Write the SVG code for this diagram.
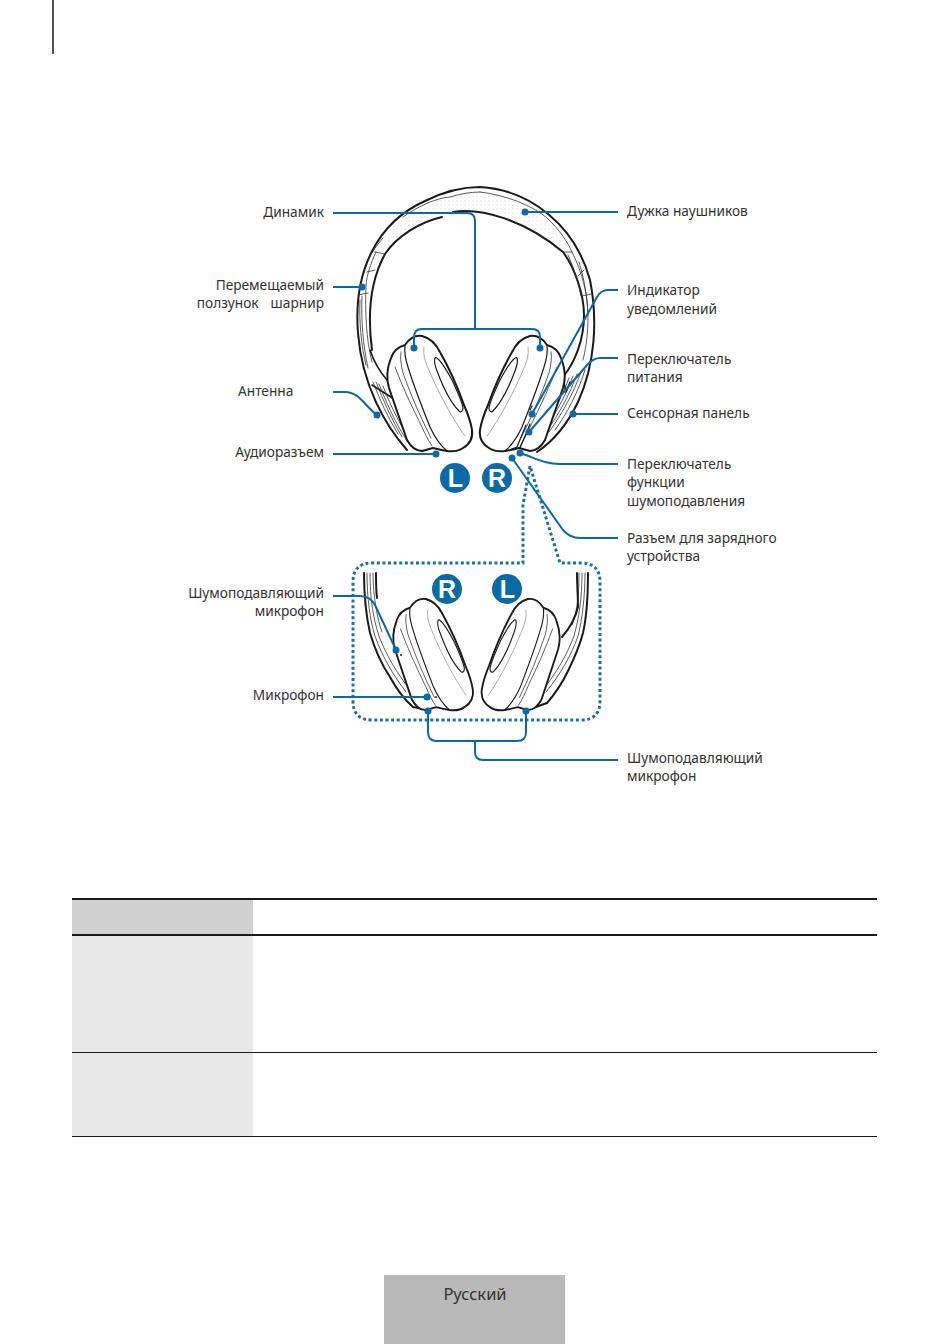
<svg xmlns="http://www.w3.org/2000/svg" xmlns:xlink="http://www.w3.org/1999/xlink" width="950" height="1344" viewBox="0 0 950 1344">
<style>
text{font-family:"Noto Sans","Open Sans","Liberation Sans",sans-serif;font-size:13.7px;fill:#333}
.r{text-anchor:end}
.k{fill:none;stroke:#1a1a1a;stroke-width:2;stroke-linecap:round;stroke-linejoin:round}
.m{fill:none;stroke:#1a1a1a;stroke-width:1.2;stroke-linecap:round;stroke-linejoin:round}
.t{fill:none;stroke:#333;stroke-width:.8;stroke-linecap:round}
.g{fill:none;stroke:#a8a8a8;stroke-width:1}
.c{fill:none;stroke:#0b6aa6;stroke-width:2;stroke-linejoin:round}
.d{fill:#0b6aa6}
.b{fill:#0b6aa6}
.bt{font-family:"Liberation Sans",Arial,sans-serif;font-weight:700;font-size:25px;fill:#fff;text-anchor:middle}
.box{fill:none;stroke:#1b71a8;stroke-width:3;stroke-dasharray:3 2.6}
</style>
<defs>
<pattern id="dots" width="4" height="4" patternUnits="userSpaceOnUse"><circle cx="1" cy="1" r=".5" fill="#bdbdbd"/></pattern>
<g id="cup">
<path fill="#fff" stroke="none" d="M405 345C398 347 393 352 391 358C387 368 386 378 389 388L407 440C411 447 416 451 422 451L433 449L447 451C455 452 459 451 463 448C470 444 473 438 472 430C471 424 468 414 464 405C458 388 449 368 440 352C436 344 430 338 422 336C415 335 409 339 405 345Z"/>
<path class="k" d="M405 345C409 339 415 335 422 336C430 338 436 344 440 352C449 368 458 388 464 405C468 414 471 424 472 430C473 438 470 444 463 448C459 451 455 452 447 451C441 450 437 449 433 448L422 451C416 451 411 447 407 440L389 388C386 378 387 368 391 358C393 352 398 347 405 345Z"/>
<path class="m" d="M405 346C404 354 406 361 408 367C414 387 422 407 430 427C435 438 440 445 447 451"/>
<path class="t" d="M401 352C400 358 401 365 403 373C411 396 421 418 431 438"/>
<path class="t" d="M395 367C402 386 412 407 422 427C425 434 428 440 432 446"/>
<path class="m" d="M435 358C434 361 435 366 437 371C443 387 451 403 459 411C461 413 463 411 463 408C462 401 457 391 452 380C447 371 442 362 438 359C437 358 436 357 435 358Z"/>
<path class="g" d="M424 347C423 354 425 361 428 368C438 392 452 418 465 436"/>
</g>
</defs>
<rect width="950" height="1344" fill="#fff"/>
<path d="M53 0V54" stroke="#1a1a1a" stroke-width="1.5" fill="none"/>

<g id="headphones-top">
<path fill="url(#dots)" stroke="none" d="M385 254C397 236 420 222 442 217L453 212C480 207 525 220 563 252L572 252C555 224 525 199 480 192C440 193 405 212 383 238Z"/>
<path class="k" d="M372 350C368 320 368 285 385 254C397 236 420 222 442 217M453 212C480 207 525 220 563 252C575 268 584 295 584 315C584 340 575 362 563 377"/>
<path class="k" d="M407 450C385 425 362 385 358 333C353 270 378 222 425 201C445 191 465 187 480 187C530 190 575 225 590 280C598 320 595 365 578 402C567 425 552 442 537 452"/>
<path class="t" d="M360 300C359 320 361 345 366 365M362 296C361 320 363 345 368 368M366 285C365 310 366 340 372 362M376 252C370 265 367 275 366 285M383 238C377 245 372 252 369 258M367 272L375 270M358 295L368 293M375 252L385 254"/>
<path class="t" d="M403 217C420 205 437 198 450 197C460 194 470 192 480 192M480 192C505 195 532 205 547 218C560 230 568 243 572 252M563 252L572 252M572 252C580 268 585 285 587 300C589 320 588 340 583 360M579 262C584 278 587 295 588 315M568 255C574 268 578 282 581 296M578 276L584 270M582 296L591 294"/>
<path class="t" d="M373 382C380 400 388 418 398 434M376 382C383 400 392 420 402 437M379 384C386 402 396 424 407 441M383 386C391 407 402 430 415 446"/>
<path class="k" d="M370 350C374 362 380 372 387 380M372 385L394 399" style="stroke-width:1.6"/>
<path class="t" d="M585 370C578 392 568 412 555 430M581 372C574 392 562 414 549 432M577 374C570 394 557 418 543 436M573 376C566 396 552 420 538 440M569 378C562 398 548 422 533 444"/>
<path class="k" style="stroke-width:1.5" d="M563 377L566 392M566 392L570 382"/>
<use xlink:href="#cup"/>
<use xlink:href="#cup" transform="translate(952 0) scale(-1 1)"/>
<path class="m" d="M507 451L517 447M517 447L526 425M520 448L530 424M530 410L532 406"/>
</g>

<g id="badges">
<circle class="b" cx="455" cy="478" r="15"/><text class="bt" x="455.500" y="487">L</text>
<circle class="b" cx="497" cy="478" r="15"/><text class="bt" x="497" y="487">R</text>
<circle class="b" cx="447" cy="589" r="15"/><text class="bt" x="447" y="598">R</text>
<circle class="b" cx="507" cy="589" r="15"/><text class="bt" x="507.500" y="598">L</text>
</g>

<g id="headphones-bottom">
<path class="k" d="M364 573C364 595 366 615 370 633C375 650 382 665 390 677C397 690 405 700 413 707L423 709"/>
<path class="t" d="M367 573C367 598 370 620 375 636C382 656 393 675 406 692M370 573C370 598 373 618 379 636C386 655 397 673 410 690M373 573C373 596 377 618 382 632"/>
<path class="k" d="M376 573C376 582 376 590 377 598"/>
<path class="k" d="M588 573C588 595 587 615 583 633C579 648 573 661 567 673C561 685 554 695 547 703L530 709"/>
<path class="t" d="M585 573C585 598 582 620 578 636C571 656 560 675 546 692M582 573C582 598 579 618 574 636C567 655 556 673 543 690M579 573C579 596 577 612 572 625"/>
<path class="k" d="M577 573C577 585 578 596 578 607C575 620 569 629 562 637"/>
<use xlink:href="#cup" transform="translate(29.200 274.800) scale(.94 .965)"/>
<use xlink:href="#cup" transform="translate(916 274.800) scale(-.92 .965)"/>
<circle cx="401" cy="655" r="1" fill="#222"/><circle cx="436" cy="697" r="1" fill="#222"/>
</g>

<g id="connectors">
<path class="box" d="M530 466L523 505V563H372Q353 563 353 582V701Q353 720 372 720H581Q600 720 600 701V582Q600 563 581 563H560L530 466"/>
<path class="c" d="M333 213H467Q475 213 475 221V329M414 348V337Q414 329 422 329H532Q540 329 540 337V348"/>
<path class="c" d="M333 287H362"/>
<path class="c" d="M333 392H345C359 392 364 405 377 415"/>
<path class="c" d="M333 454H436"/>
<path class="c" d="M618 212H525"/>
<path class="c" d="M618 290H608Q601 290 597 297L532 414"/>
<path class="c" d="M618 358H600Q594 358 588 364L529 432"/>
<path class="c" d="M618 414H573"/>
<path class="c" d="M618 464H560C545 464 535 458 520 453"/>
<path class="c" d="M618 538H580Q570 538 563 530L512 458"/>
<path class="c" d="M333 596H360Q371 596 376 607L396 650"/>
<path class="c" d="M333 697H427"/>
<path class="c" d="M428 711V732Q428 741 437 741H517Q526 741 526 732V711M475 741V752Q475 760 483 760H618"/>
<g class="d"><circle cx="414" cy="348" r="3.500"/><circle cx="540" cy="348" r="3.500"/><circle cx="362" cy="287" r="3.500"/><circle cx="377" cy="415" r="3.500"/><circle cx="436" cy="454" r="3.500"/><circle cx="525" cy="212" r="3.500"/><circle cx="532" cy="414" r="3.500"/><circle cx="529" cy="432" r="3.500"/><circle cx="573" cy="414" r="3.500"/><circle cx="520" cy="453" r="3.500"/><circle cx="512" cy="458" r="3.500"/><circle cx="396" cy="650" r="3.500"/><circle cx="427" cy="697" r="3.500"/><circle cx="428" cy="711" r="3.500"/><circle cx="526" cy="711" r="3.500"/></g>
</g>

<g id="labels">
<text class="r" x="324" y="217">Динамик</text>
<text class="r" x="324" y="290">Перемещаемый</text>
<text class="r" x="324" y="308">ползунок<tspan dx="12">шарнир</tspan></text>
<text x="238" y="396">Антенна</text>
<text class="r" x="324" y="457">Аудиоразъем</text>
<text class="r" x="324" y="598">Шумоподавляющий</text>
<text class="r" x="324" y="616">микрофон</text>
<text class="r" x="324" y="700">Микрофон</text>
<text x="627" y="216">Дужка наушников</text>
<text x="627" y="295">Индикатор</text>
<text x="627" y="314">уведомлений</text>
<text x="627" y="364">Переключатель</text>
<text x="627" y="382">питания</text>
<text x="627" y="418">Сенсорная панель</text>
<text x="627" y="469">Переключатель</text>
<text x="627" y="487">функции</text>
<text x="627" y="506">шумоподавления</text>
<text x="627" y="543">Разъем для зарядного</text>
<text x="627" y="561">устройства</text>
<text x="627" y="763">Шумоподавляющий</text>
<text x="627" y="781">микрофон</text>
</g>

<g id="table">
<rect x="72" y="899" width="181" height="36" fill="#d0d0d0"/>
<rect x="72" y="935" width="181" height="117" fill="#e8e8e8"/>
<rect x="72" y="1053" width="181" height="83" fill="#e8e8e8"/>
<path d="M72 899H877M72 935H877" stroke="#1a1a1a" stroke-width="2" fill="none"/>
<path d="M72 1052.500H877M72 1136.500H877" stroke="#1a1a1a" stroke-width="1" fill="none"/>
</g>

<g id="tab">
<rect x="384" y="1275" width="181" height="69" fill="#b9b9b9"/>
<text x="475" y="1300" text-anchor="middle" style="font-size:16.500px" fill="#222">Русский</text>
</g>
</svg>
